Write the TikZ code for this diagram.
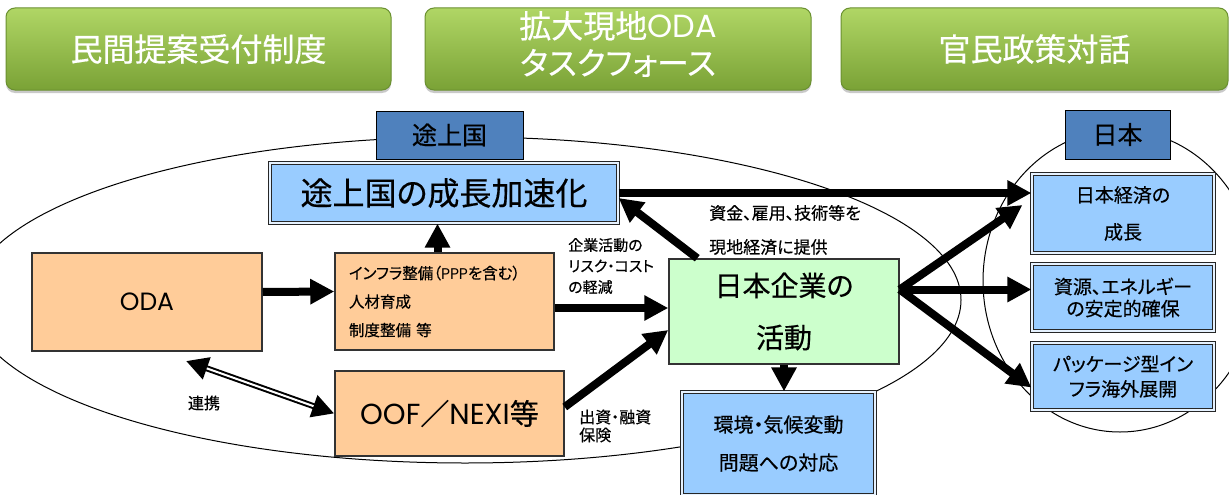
\documentclass[tikz,border=0pt]{standalone}
\usepackage{fontspec}
\setmainfont{Noto Sans CJK JP}[RawFeature=+palt, FakeBold=0.4]
\newfontfamily\popfont{Poppins}
\usetikzlibrary{arrows.meta,shadows}
\definecolor{gtop}{HTML}{B0D665}
\definecolor{gbot}{HTML}{7AA236}
\definecolor{gedge}{HTML}{6A9030}
\definecolor{lblblue}{HTML}{4F81BD}
\definecolor{ltblue}{HTML}{99CCFF}
\definecolor{orng}{HTML}{FFCC99}
\definecolor{ltgreen}{HTML}{CCFFCC}
\definecolor{edgegray}{HTML}{333333}
\newcommand\fsz[2]{\fontsize{#1pt}{#2pt}\selectfont}
\begin{document}
\begin{tikzpicture}[x=1pt,y=-1pt,
  greenbox/.style={draw=gedge, line width=1pt, rounded corners=9pt, top color=gtop, bottom color=gbot,
    minimum height=82pt, inner sep=0pt,
    drop shadow={shadow xshift=0pt, shadow yshift=-3pt, opacity=0.35, fill=black!60}},
  greentext/.style={text=white, font=\fsz{32}{37}, align=center, inner sep=0pt},
  lbl/.style={draw=black, line width=1pt, fill=lblblue, inner sep=0pt, font=\fsz{25}{30}},
  bluebox/.style={draw=black!85, line width=1.2pt, double=white!75!ltblue, double distance=1.4pt,
    fill=ltblue, inner sep=0pt, align=center},
  orangebox/.style={draw=edgegray, line width=1.5pt, fill=orng, inner sep=0pt},
  fat/.style={line width=8pt, -{Triangle[length=24pt,width=24pt]}},
  note/.style={inner sep=0pt, align=left, anchor=west}]
\useasboundingbox (0,0) rectangle (1229,495);
\clip (0,0) rectangle (1229,495);
\fill[white] (0,0) rectangle (1229,495);

% regions
\draw[line width=1pt] (465,300) ellipse [x radius=496pt, y radius=163pt];
\draw[line width=1pt] (1120,281) ellipse [x radius=137pt, y radius=151pt];

% top green boxes
\node[greenbox, greentext, minimum width=385pt] (g1) at (198.5,49) {民間提案受付制度};
\node[greenbox, minimum width=386pt] (g2) at (618,49) {};
\node[greentext] (g2t) at (618,44) {拡大現地{\popfont ODA}\\タスクフォース};
\node[greenbox, greentext, minimum width=387pt] (g3) at (1034.5,49) {官民政策対話};

% region labels
\node[lbl, minimum width=147pt, minimum height=48pt] (tlabel) at (449.5,135) {途上国};
\node[lbl, minimum width=105pt, minimum height=49pt] (jlabel) at (1117.5,134.5) {日本};

% blue boxes
\node[bluebox, minimum width=348pt, minimum height=60pt, font=\fsz{32}{38}] (growth) at (444,193) {途上国の成長加速化};
\node[bluebox, minimum width=182pt, minimum height=79pt, font=\fsz{19}{37}] (econ) at (1123,213.5) {日本経済の\\成長};
\node[bluebox, minimum width=182pt, minimum height=67pt, font=\fsz{19}{22}] (res) at (1123,297.5) {資源、エネルギー\\の安定的確保};
\node[bluebox, minimum width=182pt, minimum height=67pt, font=\fsz{19}{25}] (pkg) at (1123,376.5) {パッケージ型イン\\フラ海外展開};
\node[bluebox, minimum width=193pt, minimum height=103pt, font=\fsz{20}{38}] (env) at (778.5,443.5) {環境・気候変動\\問題への対応};

% center box
\node[draw=edgegray, line width=1.5pt, fill=ltgreen, minimum width=230pt, minimum height=105pt,
  inner sep=0pt, align=center, font=\fsz{28}{52}] (ej) at (784,311.5) {日本企業の\\活動};

% orange boxes
\node[orangebox, minimum width=230pt, minimum height=98pt, font=\fsz{25}{30}] (oda) at (147,302) {\popfont ODA};
\node[orangebox, minimum height=97pt, text width=191pt, inner xsep=14pt, align=left, font=\fsz{15.5}{28.5}] (infra) at (444.5,301.5)
  {インフラ整備（{\popfont PPP}を含む）\\人材育成\\制度整備 等};
\node[orangebox, minimum width=229pt, minimum height=85pt, font=\fsz{29}{32}] (oof) at (449.5,413.5)
  {{\popfont OOF}／{\popfont NEXI}等};

% arrows
\draw[fat] ([yshift=10pt]oda.east) -- ([yshift=10pt]infra.west);
\draw[fat] ([yshift=-6.5pt]infra.east) -- ([yshift=-6.5pt]infra.east -| ej.west);
\draw[fat] ([yshift=6.5pt]oof.east) -- ([yshift=-18.5pt]ej.west);
\draw[fat] (ej.south) -- (ej.south |- env.north);
\draw[fat] ([xshift=-7pt]infra.north) -- ([xshift=-7pt]infra.north |- growth.south);
\draw[fat] ([xshift=29pt]ej.north west) -- ([yshift=-5pt]growth.east);
\draw[fat] (growth.east) -- (growth.east -| econ.west);
\coordinate (hub) at ([yshift=22pt]ej.east);
\draw[fat] (hub) -- ([xshift=-9pt,yshift=8.5pt]econ.west);
\draw[fat] (hub) -- (hub -| res.west);
\draw[fat] (hub) -- ([yshift=-11pt]pkg.west);

% cooperation double arrow
\coordinate (ren) at (186,361);
\draw[line width=6pt, {Triangle[length=22pt,width=22pt]}-{Triangle[length=22pt,width=22pt]}] (ren) -- (oof.west);
\draw[white, line width=2pt, shorten <=22pt, shorten >=22pt] (ren) -- (oof.west);

% annotations
\node[note, font=\fsz{17}{34}] (fund) at (709,230) {資金、雇用、技術等を\\現地経済に提供};
\node[note, font=\fsz{15}{21}] (risk) at (568,266) {企業活動の\\リスク・コスト\\の軽減};
\node[note, font=\fsz{16}{18}] (inv) at (579,426) {出資・融資\\保険};
\node[inner sep=0pt, font=\fsz{16}{20}] (rentxt) at (204,403) {連携};
\end{tikzpicture}
\end{document}
